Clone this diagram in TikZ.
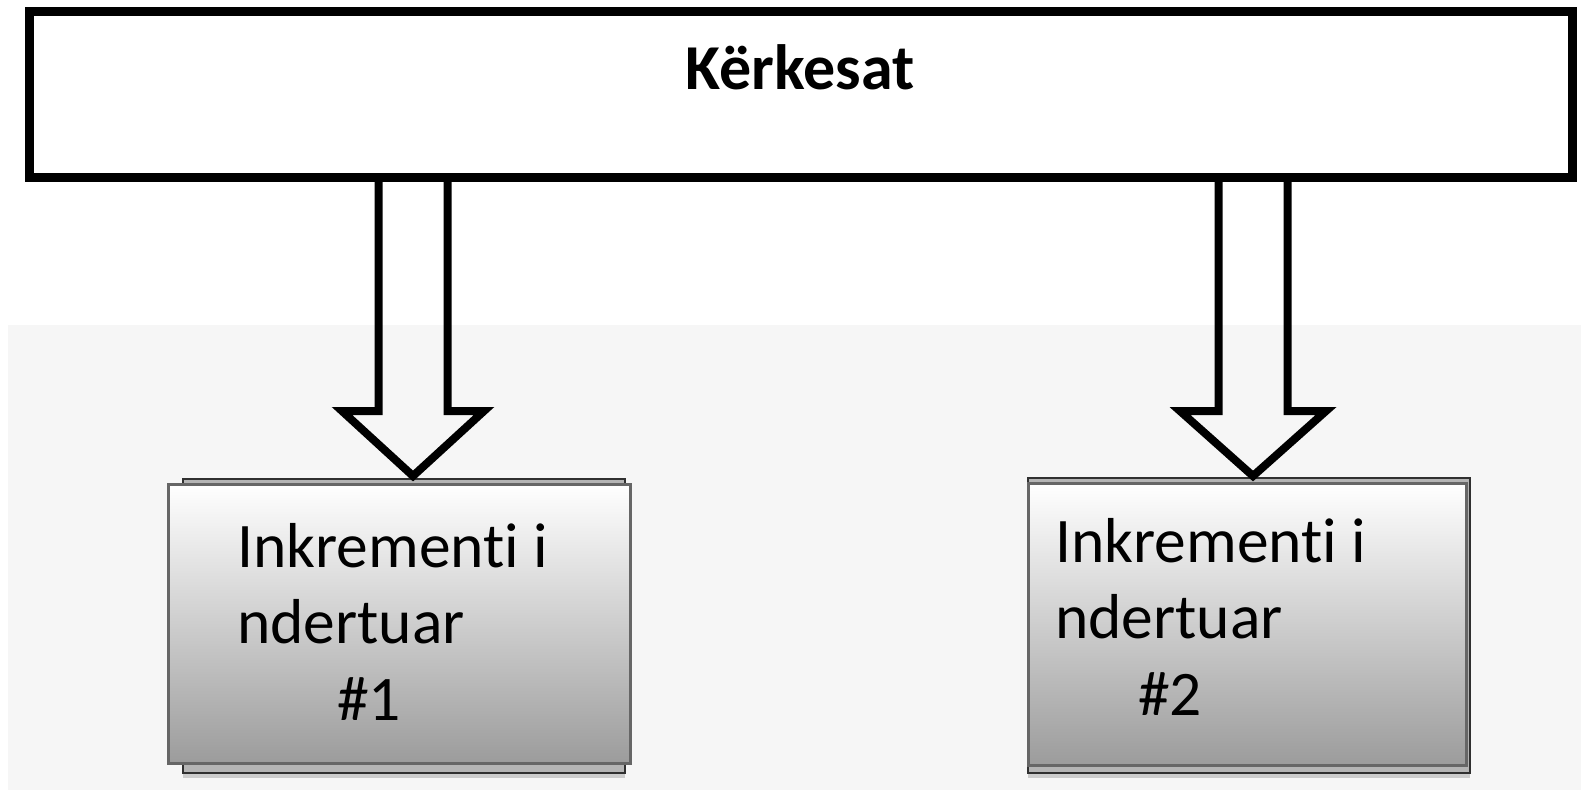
\documentclass[tikz,border=0pt]{standalone}
\usepackage{fontspec}
\setmainfont{Carlito}[Ligatures=NoCommon]
\usetikzlibrary{calc,shadows}

\definecolor{paper}{HTML}{F6F6F6}
\definecolor{framegray}{HTML}{666666}
\definecolor{backgray}{HTML}{B4B4B4}
\definecolor{backedge}{HTML}{303030}

\tikzset{
  topbox/.style={draw=black, line width=9pt, fill=white,
    minimum width=1543pt, minimum height=166pt, inner sep=0pt},
  incbox/.style={draw=framegray, line width=3pt, inner sep=0pt,
    top color=white, bottom color=gray!78},
  backplate/.style={fill=backgray, draw=backedge, line width=2.5pt,
    drop shadow={opacity=0.35, shadow xshift=0pt, shadow yshift=-5pt}},
  hollowarrow/.style={draw=black, line width=8pt, line join=miter, line cap=butt},
  boxtext/.style={anchor=base west, inner sep=0pt, font=\fontsize{63.5}{74}\selectfont},
  titletext/.style={anchor=base, inner sep=0pt, font=\fontsize{64}{76}\selectfont\bfseries}
}

\begin{document}
\begin{tikzpicture}[x=1pt, y=-1pt]
  \useasboundingbox (0,0) rectangle (1581,790);
  % light lower backdrop
  \fill[paper] (8,325) rectangle (1581,790);

  % requirements bar
  \node[topbox] (req) at (800.5,94) {};
  \node[titletext] (reqlabel) at (800,89) {Kërkesat};

  % increment 1
  \path[backplate] (183,479) rectangle (625,773);
  \node[incbox, minimum width=462pt, minimum height=279pt] (inc1) at (399.5,624) {};
  \node[boxtext] (inc1a) at (237,567) {Inkrementi i};
  \node[boxtext] (inc1b) at (237,643) {ndertuar};
  \node[boxtext] (inc1c) at (337,720) {\#1};

  % increment 2
  \path[backplate] (1028,478) rectangle (1470,773);
  \node[incbox, minimum width=438pt, minimum height=282pt] (inc2) at (1247.5,624.5) {};
  \node[boxtext] (inc2a) at (1055,562) {Inkrementi i};
  \node[boxtext] (inc2b) at (1055,638) {ndertuar};
  \node[boxtext] (inc2c) at (1138,715) {\#2};

  % hollow arrows from the bar down to each increment
  \coordinate (tip1) at (413,476);
  \coordinate (tip2) at (1253,476);
  \foreach \t/\w in {tip1/71, tip2/73} {
    \draw[hollowarrow]
      ($(req.south -| \t)+(-34.5,-5)$) -- ($(\t)+(-34.5,-65)$)
      -- ($(\t)+(-\w,-65)$) -- (\t) -- ($(\t)+(\w,-65)$)
      -- ($(\t)+(34.5,-65)$) -- ($(req.south -| \t)+(34.5,-5)$);
  }
\end{tikzpicture}
\end{document}
